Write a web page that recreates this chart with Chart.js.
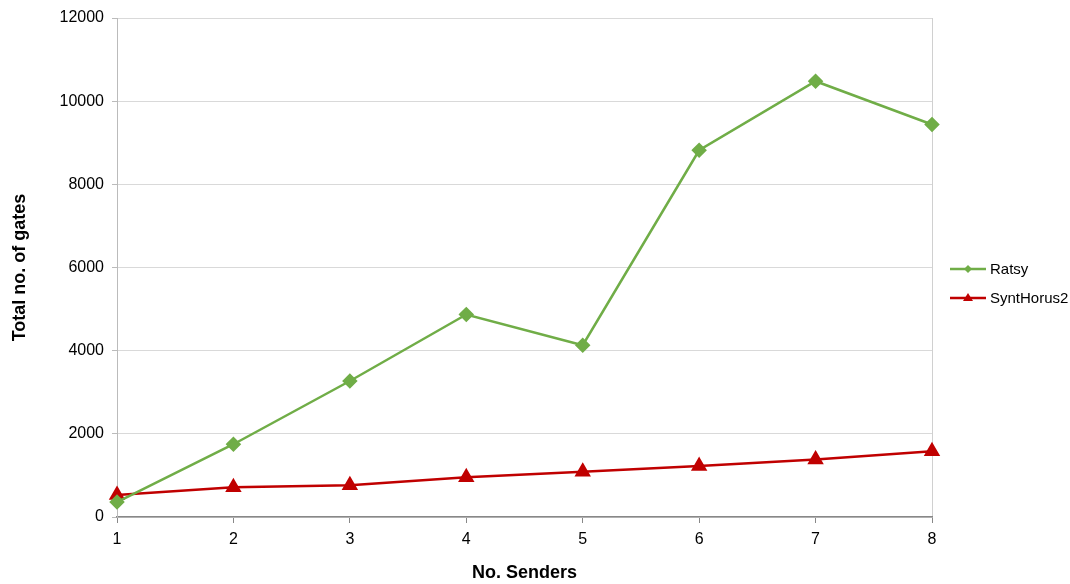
<!DOCTYPE html>
<html><head><meta charset="utf-8">
<script src="https://cdn.jsdelivr.net/npm/chart.js@4"></script>
<style>
html,body{margin:0;padding:0;background:#fff;}
#wrap{position:relative;width:1070px;height:584px;}
#legend{position:absolute;left:950px;top:254px;font-family:"Liberation Sans",Arial,sans-serif;font-size:15px;color:#000;}
.li{display:flex;align-items:center;height:29px;}
.li canvas{margin-right:4px;}
</style></head>
<body>
<div id="wrap"><canvas id="c" width="1070" height="584"></canvas>
<div id="legend"></div></div>
<script>
const senders = [1,2,3,4,5,6,7,8];
const ratsy = [360,1750,3270,4870,4130,8820,10480,9440];
const synthorus2 = [530,715,765,955,1090,1225,1385,1580];
const seriesNames = ['Ratsy','SyntHorus2'];
const yTicks = [0,2000,4000,6000,8000,10000,12000];

const font = "'Liberation Sans', Arial, sans-serif";
const green = '#70ad47', red = '#c00000';

const chart = new Chart(document.getElementById('c'), {
  type: 'line',
  data: {
    datasets: [
      {label: seriesNames[0], data: senders.map((x,i)=>({x, y: ratsy[i]})), borderColor: green, backgroundColor: green,
       borderWidth: 2.5, pointStyle: 'rectRot', pointRadius: 6, pointHoverRadius: 6, tension: 0, clip: false},
      {label: seriesNames[1], data: senders.map((x,i)=>({x, y: synthorus2[i]})), borderColor: red, backgroundColor: red,
       borderWidth: 2.5, pointStyle: 'triangle', pointRadius: 7, pointHoverRadius: 7, tension: 0, clip: false}
    ]
  },
  options: {
    responsive: false, animation: false,
    layout: {padding: {left: 0, right: 138, top: 18, bottom: 0}},
    plugins: {legend: {display: false}, tooltip: {enabled: false}},
    scales: {
      x: {
        type: 'linear', min: 1, max: 8,
        afterFit: s => { s.height = 67; },
        ticks: {stepSize: 1, color: '#000', font: {family: font, size: 16}, padding: 7},
        grid: {color: c => c.index === senders.length - 1 ? '#d0d0d0' : 'rgba(0,0,0,0)', tickColor: '#888', tickLength: 6, lineWidth: 1},
        border: {color: '#888', width: 1.5},
        title: {display: true, text: 'No. Senders', color: '#000', font: {family: font, size: 18, weight: 'bold'}, padding: {top: 0, bottom: 0}}
      },
      y: {
        min: 0, max: 12000,
        afterFit: s => { s.width = 117; },
        afterBuildTicks: s => { s.ticks = yTicks.map(v => ({value: v})); },
        ticks: {color: '#000', font: {family: font, size: 16}, padding: 8, callback: v => String(v)},
        grid: {color: '#d9d9d9', tickColor: '#bbb', tickLength: 5, lineWidth: 1},
        border: {color: '#bbb', width: 1},
        title: {display: true, text: 'Total no. of gates', color: '#000', font: {family: font, size: 18, weight: 'bold'}, padding: {top: 9, bottom: 4}}
      }
    }
  }
});

// HTML legend
const leg = document.getElementById('legend');
chart.data.datasets.forEach(ds => {
  const row = document.createElement('div'); row.className = 'li';
  const cv = document.createElement('canvas'); cv.width = 36; cv.height = 14;
  const g = cv.getContext('2d');
  g.strokeStyle = ds.borderColor; g.lineWidth = 2.5;
  g.beginPath(); g.moveTo(0,7); g.lineTo(36,7); g.stroke();
  g.fillStyle = ds.backgroundColor; g.beginPath();
  if (ds.pointStyle === 'rectRot') { g.moveTo(18,3); g.lineTo(22,7); g.lineTo(18,11); g.lineTo(14,7); }
  else { g.moveTo(18,2); g.lineTo(23,10); g.lineTo(13,10); }
  g.closePath(); g.fill();
  const t = document.createElement('span'); t.textContent = ds.label;
  row.appendChild(cv); row.appendChild(t); leg.appendChild(row);
});
</script>
</body></html>
